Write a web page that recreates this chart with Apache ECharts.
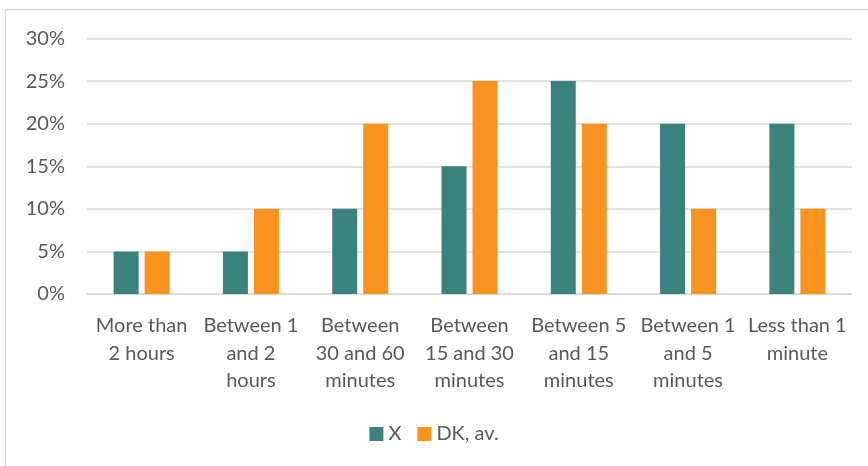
<!DOCTYPE html>
<html>
<head>
<meta charset="utf-8">
<script src="https://cdn.jsdelivr.net/npm/echarts@6/dist/echarts.min.js"></script>
<style>
  html, body { margin: 0; padding: 0; background: #fff; }
  #chart { width: 868px; height: 466px; }
</style>
</head>
<body>
<div id="chart"></div>
<script>
// Time categories (line breaks as shown under each group)
const categories = [
  'More than\n2 hours',
  'Between 1\nand 2\nhours',
  'Between\n30 and 60\nminutes',
  'Between\n15 and 30\nminutes',
  'Between 5\nand 15\nminutes',
  'Between 1\nand 5\nminutes',
  'Less than 1\nminute'
];
// Share of respondents, in percent
const seriesX = [5, 5, 10, 15, 25, 20, 20];
const seriesDK = [5, 10, 20, 25, 20, 10, 10];
const seriesNames = ['X', 'DK, av.'];
const yTicks = { min: 0, max: 30, interval: 5 };

const FONT = 'Lato, "Open Sans", sans-serif';
const TEXT = '#595959';

const chart = echarts.init(document.getElementById('chart'), null, { renderer: 'canvas' });
chart.setOption({
  animation: false,
  backgroundColor: '#fff',
  textStyle: { fontFamily: FONT },
  grid: { left: 87, right: 16, top: 38.5, bottom: 172, containLabel: false },
  graphic: [{
    type: 'rect',
    shape: { x: 5.5, y: 9.5, width: 900, height: 500 },
    style: { fill: 'none', stroke: '#d9d9d9', lineWidth: 1.5 },
    silent: true
  }],
  legend: {
    bottom: 17,
    left: 'center',
    itemWidth: 14,
    itemHeight: 14,
    itemGap: 16,
    icon: 'rect',
    textStyle: { color: TEXT, fontSize: 20, fontFamily: FONT }
  },
  xAxis: {
    type: 'category',
    data: categories,
    axisLine: { show: true, lineStyle: { color: '#d9d9d9', width: 1.5 } },
    axisTick: { show: false },
    axisLabel: {
      color: TEXT, fontSize: 20, fontFamily: FONT,
      lineHeight: 27.5, margin: 18, interval: 0
    }
  },
  yAxis: {
    type: 'value',
    min: yTicks.min, max: yTicks.max, interval: yTicks.interval,
    axisLine: { show: false },
    axisTick: { show: false },
    splitLine: { lineStyle: { color: '#d9d9d9', width: 1.5 } },
    axisLabel: {
      color: TEXT, fontSize: 20, fontFamily: FONT, margin: 22,
      formatter: '{value}%'
    }
  },
  series: [
    {
      name: seriesNames[0], type: 'bar', data: seriesX,
      barWidth: 25, barGap: '24%',
      itemStyle: { color: '#3a837d' }
    },
    {
      name: seriesNames[1], type: 'bar', data: seriesDK,
      barWidth: 25, barGap: '24%',
      itemStyle: { color: '#f7931e' }
    }
  ]
});
</script>
</body>
</html>
